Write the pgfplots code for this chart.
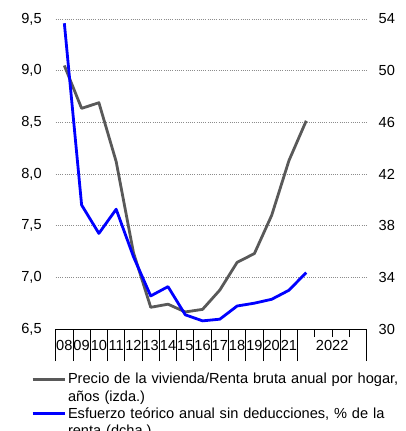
\documentclass[border=0pt]{standalone}
\usepackage{pgfplots}
\pgfplotsset{compat=1.18}
\usepackage{fontspec}
\setmainfont{Liberation Sans}
\definecolor{grayline}{HTML}{595959}
\definecolor{gridc}{HTML}{8C8C8C}
\begin{document}
\begin{tikzpicture}[font=\fontsize{14.6}{17.7}\selectfont]
\begin{axis}[
  scale only axis, width=311pt, height=310pt,
  xmin=-0.5, xmax=17.5, ymin=6.5, ymax=9.5,
  axis x line*=bottom, axis y line*=left,
  y axis line style={draw=none},
  x axis line style={black, line width=1pt},
  ytick={6.5,7,7.5,8,8.5,9,9.5},
  /pgf/number format/assume math mode=true,
  yticklabel={\pgfmathprintnumber[fixed,fixed zerofill,precision=1,use comma]{\tick}},
  yticklabel style={xshift=21.5pt},
  ytick style={draw=none},
  ymajorgrids,
  grid style={gridc, line width=0.9pt, dash pattern=on 0.9pt off 1.3pt},
  xtick={-0.5,0.5,...,13.5,17.5},
  xticklabels={},
  minor xtick={14.5,15.5,16.5},
  tick align=outside,
  major tick length=32pt,
  minor tick length=8pt,
  xtick style={black, line width=0.9pt},
  extra x ticks={0,1,2,3,4,5,6,7,8,9,10,11,12,13,15.5},
  extra x tick labels={08,09,10,11,12,13,14,15,16,17,18,19,20,21,2022},
  extra x tick style={major tick length=0pt, tick style={draw=none}, xticklabel style={yshift=-8pt}},
  clip=false,
  legend style={at={(axis description cs:-0.0794,-0.1355)}, anchor=north west,
    draw=none, fill=none, inner sep=0pt, row sep=18pt, column sep=0pt,
    font=\fontsize{14.6}{17.7}\selectfont,
    cells={anchor=west, text width=337pt, align=left, inner sep=0pt, text depth={}}},
  legend cell align=left,
  legend image code/.code={\draw[#1] (0pt,0pt) -- (32pt,0pt);},
]
\addplot[grayline, line width=2.8pt, line join=round] coordinates {
(0,9.05) (1,8.635) (2,8.69) (3,8.12) (4,7.24) (5,6.71) (6,6.74) (7,6.665)
(8,6.69) (9,6.877) (10,7.145) (11,7.23) (12,7.60) (13,8.13) (14,8.515)};
\addlegendentry{Precio de la vivienda/Renta bruta anual por hogar, años (izda.)}
\addlegendimage{blue, line width=2.8pt}
\addlegendentry{Esfuerzo teórico anual sin deducciones, \% de la renta (dcha.)}
\end{axis}
\begin{axis}[
  scale only axis, width=311pt, height=310pt,
  xmin=-0.5, xmax=17.5, ymin=30, ymax=54,
  axis x line=none, axis y line*=right,
  y axis line style={draw=none},
  ytick={30,34,38,42,46,50,54},
  /pgf/number format/assume math mode=true,
  yticklabel style={xshift=8.4pt},
  ytick style={draw=none},
  clip=false,
]
\addplot[blue, line width=2.8pt, line join=round] coordinates {
(0,53.67) (1,39.6) (2,37.4) (3,39.27) (4,35.6) (5,32.56) (6,33.28) (7,31.1)
(8,30.63) (9,30.76) (10,31.78) (11,32.0) (12,32.3) (13,33.0) (14,34.37)};
\end{axis}
\pgfresetboundingbox
\useasboundingbox (-55.7pt,-102pt) rectangle (349.3pt,329pt);
\end{tikzpicture}
\end{document}
